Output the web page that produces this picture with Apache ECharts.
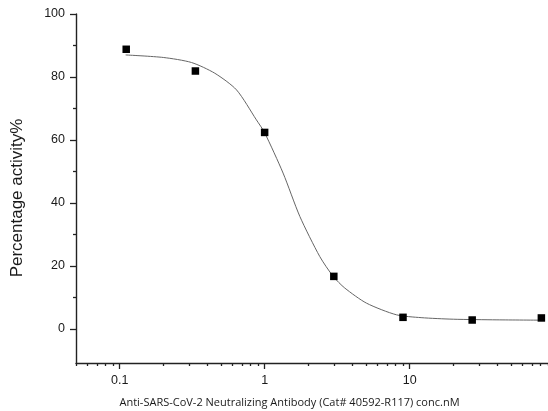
<!DOCTYPE html>
<html>
<head>
<meta charset="utf-8">
<script src="https://cdn.jsdelivr.net/npm/echarts@6/dist/echarts.min.js"></script>
<style>
html,body{margin:0;padding:0;background:#fff;}
#chart{width:548px;height:411px;}
</style>
</head>
<body>
<div id="chart"></div>
<script>
// Measured data points (concentration nM, percentage activity)
var pointConc = [0.111, 0.333, 1, 3, 9, 27, 81];
var pointValue = [88.8, 81.9, 62.4, 16.7, 3.7, 2.85, 3.5];

// Fitted curve
var curveConc = [0.11, 0.2, 0.313, 0.453, 0.64, 0.877, 1.0, 1.34, 1.75, 2.4, 2.97, 3.57, 5.04, 8.11, 12, 20, 40, 81];
var curveValue = [87.0, 86.2, 84.6, 81.2, 75.9, 66.4, 62.3, 49.5, 35.7, 23.0, 16.7, 13.0, 8.2, 4.5, 3.6, 3.1, 2.9, 2.8];

// Tick values
var xMajorTicks = [0.1, 1, 10];
var xMinorTicks = [0.05, 0.06, 0.07, 0.08, 0.09, 0.2, 0.3, 0.4, 0.5, 0.6, 0.7, 0.8, 0.9,
                   2, 3, 4, 5, 6, 7, 8, 9, 20, 30, 40, 50, 60, 70, 80, 90];
var yMajorTicks = [0, 20, 40, 60, 80, 100];
var yMinorTicks = [10, 30, 50, 70, 90];

var xTitle = 'Anti-SARS-CoV-2 Neutralizing Antibody (Cat# 40592-R117) conc.nM';
var yTitle = 'Percentage activity%';

var chart = echarts.init(document.getElementById('chart'), null, {renderer: 'canvas'});

var axisColor = '#222';
var labelFont = {color: '#1a1a1a', fontFamily: 'Liberation Sans, Arial, sans-serif', fontSize: 12.5};

var points = pointConc.map(function (c, i) { return [c, pointValue[i]]; });
var curve = curveConc.map(function (c, i) { return [c, curveValue[i]]; });

chart.setOption({
  animation: false,
  backgroundColor: '#fff',
  grid: {left: 76, right: 0, top: 14, bottom: 48, containLabel: false},
  xAxis: [{
    type: 'log',
    logBase: 10,
    min: 0.05,
    max: 90,
    position: 'bottom',
    axisLine: {show: true, onZero: false, lineStyle: {color: axisColor, width: 1.4}},
    axisTick: {show: true, inside: false, length: 6, customValues: xMajorTicks, lineStyle: {color: axisColor, width: 1.3}},
    axisLabel: Object.assign({show: true, margin: 11, customValues: xMajorTicks,
      formatter: function (v) { return String(+v.toPrecision(3)); }}, labelFont),
    splitLine: {show: false},
    minorTick: {show: false}
  }, {
    type: 'log',
    logBase: 10,
    min: 0.05,
    max: 90,
    position: 'bottom',
    offset: 0,
    axisLine: {show: false, onZero: false},
    axisTick: {show: true, inside: false, length: 3, customValues: xMinorTicks, lineStyle: {color: axisColor, width: 1.3}},
    axisLabel: {show: false},
    splitLine: {show: false}
  }],
  yAxis: [{
    type: 'value',
    min: -10.8,
    max: 100,
    position: 'left',
    axisLine: {show: true, onZero: false, lineStyle: {color: axisColor, width: 1.4}},
    axisTick: {show: true, inside: false, length: 6, customValues: yMajorTicks, lineStyle: {color: axisColor, width: 1.3}},
    axisLabel: Object.assign({show: true, margin: 11, customValues: yMajorTicks}, labelFont),
    splitLine: {show: false}
  }, {
    type: 'value',
    min: -10.8,
    max: 100,
    position: 'left',
    offset: 0,
    axisLine: {show: false, onZero: false},
    axisTick: {show: true, inside: false, length: 3, customValues: yMinorTicks, lineStyle: {color: axisColor, width: 1.3}},
    axisLabel: {show: false},
    splitLine: {show: false}
  }],
  graphic: [{
    type: 'text',
    x: 289.5,
    y: 403,
    style: {text: xTitle, align: 'center', verticalAlign: 'middle', fill: '#1a1a1a',
      fontFamily: 'Open Sans, sans-serif', fontSize: 11}
  }, {
    type: 'text',
    x: 17,
    y: 198,
    rotation: Math.PI / 2,
    style: {text: yTitle, align: 'center', verticalAlign: 'middle', fill: '#1a1a1a',
      fontFamily: 'Liberation Sans, Arial, sans-serif', fontSize: 17}
  }],
  series: [{
    type: 'line',
    xAxisIndex: 0,
    yAxisIndex: 0,
    data: curve,
    smooth: 0.25,
    showSymbol: false,
    symbol: 'none',
    lineStyle: {color: '#666', width: 1},
    z: 2
  }, {
    type: 'scatter',
    xAxisIndex: 0,
    yAxisIndex: 0,
    data: points,
    symbol: 'rect',
    symbolSize: 7.5,
    itemStyle: {color: '#000', opacity: 1},
    z: 3
  }]
});
</script>
</body>
</html>
